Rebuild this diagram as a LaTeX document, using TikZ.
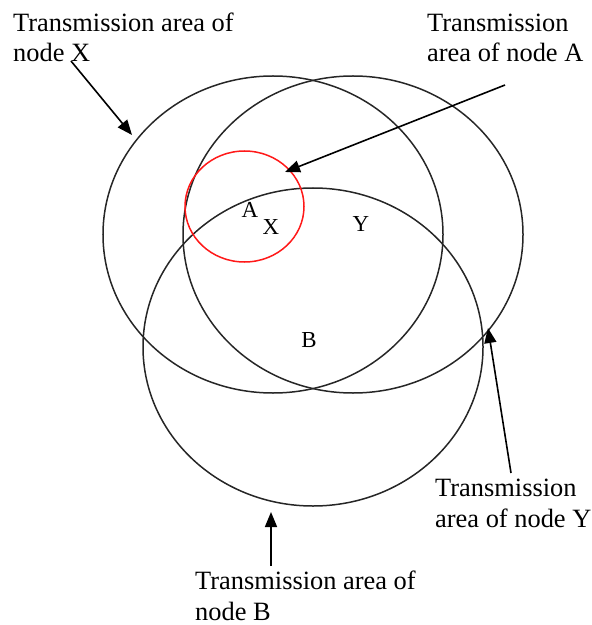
\documentclass[tikz,border=0pt]{standalone}
\usepackage{fontspec}
\setmainfont{Liberation Serif}
\usetikzlibrary{arrows.meta}
\begin{document}
\begin{tikzpicture}[x=1bp,y=-1bp,
  area/.style={draw=black!85, line width=1.5bp},
  redarea/.style={draw=red!90, line width=1.5bp},
  lbl/.style={font=\fontsize{26.5}{30.5}\selectfont, inner sep=0, align=left, anchor=base west},
  ptr/.style={draw=black, line width=1.6bp, -{Triangle[length=15bp,width=12bp]}},
  letter/.style={font=\fontsize{23}{27}\selectfont, inner sep=0, anchor=base}]
\useasboundingbox (0,0) rectangle (592,625);
% transmission areas
\draw[area] (273,234.5) ellipse [x radius=170bp, y radius=158.5bp];
\draw[area] (353,234.5) ellipse [x radius=170bp, y radius=158.5bp];
\draw[area] (313,347) ellipse [x radius=170bp, y radius=159bp];
\draw[redarea] (244.5,206.5) ellipse [x radius=59.5bp, y radius=55.5bp];
% node letters
\node[letter] (nA) at (250,217) {A};
\node[letter] (nX) at (271,234) {X};
\node[letter] (nY) at (361,231) {Y};
\node[letter] (nB) at (309,347) {B};
% labels (base anchor = baseline of last line)
\node[lbl] (lX) at (13,62) {Transmission area of\\node X};
\node[lbl] (lA) at (427,62) {Transmission\\area of node A};
\node[lbl] (lY) at (435,527) {Transmission\\area of node Y};
\node[lbl] (lB) at (195,620) {Transmission area of\\node B};
% arrow ends
\coordinate (sX) at (71,61);
\coordinate (tX) at (132,135);
\coordinate (sA) at (505,85);
\coordinate (tA) at (285,172);
\coordinate (sY) at (511,473);
\coordinate (tY) at (488,328);
\coordinate (sB) at (271,566);
\coordinate (tB) at (271,512);
\draw[ptr] (sX) -- (tX);
\draw[ptr] (sA) -- (tA);
\draw[ptr] (sY) -- (tY);
\draw[ptr] (sB) -- (tB);
\end{tikzpicture}
\end{document}
